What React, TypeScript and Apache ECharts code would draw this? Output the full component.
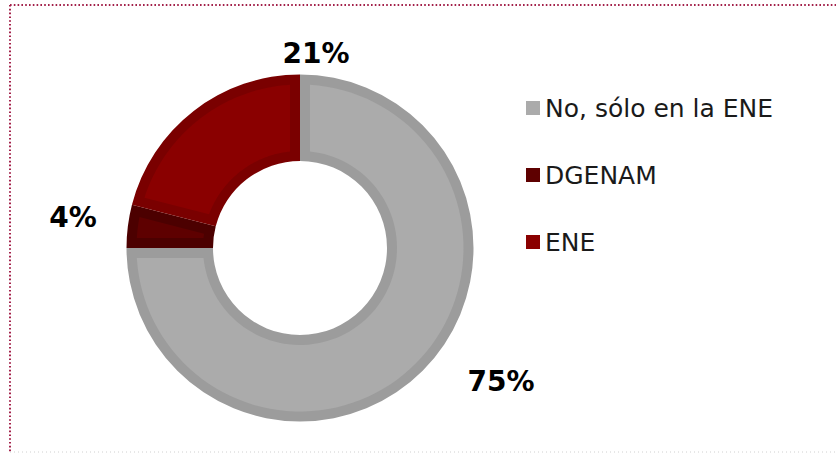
import React, { useEffect, useRef } from "react";
import * as echarts from "echarts";

const categories = ["No, sólo en la ENE", "DGENAM", "ENE"];
const values = [75, 4, 21];
const labelTexts = ["75%", "4%", "21%"];
const fillColors = ["#ababab", "#5e0000", "#8a0000"];
const edgeColors = ["#9c9c9c", "#4c0000", "#7a0000"];

const CENTER: [number, number] = [300, 248];
const R_IN = 87;
const R_OUT = 173.5;
const EDGE = 10;

const labelSpots: Record<number, [number, number]> = {
  0: [501, 381],
  1: [73, 217],
  2: [316, 53],
};

export default function App() {
  const ref = useRef<HTMLDivElement>(null);
  useEffect(() => {
    if (!ref.current) return;
    const chart = echarts.init(ref.current, null, { renderer: "svg" });
    const total = values.reduce((a, b) => a + b, 0);

    chart.setOption({
      animation: false,
      backgroundColor: "#ffffff",
      legend: {
        orient: "vertical",
        left: 521,
        top: 90,
        icon: "rect",
        itemWidth: 14,
        itemHeight: 14,
        itemGap: 41,
        selectedMode: false,
        data: categories.map((name, i) => ({
          name,
          itemStyle: { color: fillColors[i] },
        })),
        textStyle: {
          fontFamily: "DejaVu Sans",
          fontSize: 25,
          lineHeight: 26,
          color: "#1a1a1a",
        },
      },
      graphic: [
        {
          type: "line",
          shape: { x1: 10, y1: 5, x2: 836, y2: 5 },
          style: { stroke: "#a3214a", lineWidth: 2, lineDash: [1.6, 2.2] },
        },
        {
          type: "line",
          shape: { x1: 10, y1: 5, x2: 10, y2: 453 },
          style: { stroke: "#a3214a", lineWidth: 2, lineDash: [1.6, 2.2] },
        },
        {
          type: "line",
          shape: { x1: 10, y1: 452, x2: 836, y2: 452 },
          style: { stroke: "#d0d0d0", lineWidth: 1, lineDash: [1, 3] },
        },
      ],
      series: [
        {
          type: "pie",
          name: "ring",
          z: 1,
          center: CENTER,
          radius: [R_IN, R_OUT],
          startAngle: 90,
          clockwise: true,
          silent: true,
          data: categories.map((name, i) => ({
            name,
            value: values[i],
            itemStyle: { color: edgeColors[i] },
          })),
          label: {
            show: true,
            position: "outside",
            formatter: (p: any) => labelTexts[p.dataIndex],
            fontFamily: "DejaVu Sans",
            fontWeight: "bold",
            fontSize: 28,
            color: "#000000",
          },
          labelLine: { show: false },
          labelLayout: (p: any) => {
            const s = labelSpots[p.dataIndex];
            return { x: s[0], y: s[1], align: "center", verticalAlign: "middle" };
          },
        },
        {
          // lighter inner face of each slice, inset by the darker edge
          type: "custom",
          coordinateSystem: "none",
          silent: true,
          z: 3,
          data: values.map((v, i) => [v, i]),
          renderItem: (params: any, api: any) => {
            const idx = params.dataIndex;
            let before = 0;
            for (let k = 0; k < idx; k++) before += values[k];
            const a0 = -Math.PI / 2 + (2 * Math.PI * before) / total;
            const a1 = a0 + (2 * Math.PI * api.value(0)) / total;
            const ro = R_OUT - EDGE;
            const ri = R_IN + EDGE;
            const dOut = Math.asin(EDGE / ro);
            const dIn = Math.asin(EDGE / ri);
            const pts: number[][] = [];
            const N = 90;
            const os = a0 + dOut;
            const oe = a1 - dOut;
            for (let t = 0; t <= N; t++) {
              const a = os + ((oe - os) * t) / N;
              pts.push([CENTER[0] + ro * Math.cos(a), CENTER[1] + ro * Math.sin(a)]);
            }
            const is = a0 + dIn;
            const ie = a1 - dIn;
            for (let t = N; t >= 0; t--) {
              const a = is + ((ie - is) * t) / N;
              pts.push([CENTER[0] + ri * Math.cos(a), CENTER[1] + ri * Math.sin(a)]);
            }
            return {
              type: "polygon",
              shape: { points: pts },
              style: { fill: fillColors[api.value(1)] },
            };
          },
        },
      ],
    });
    return () => chart.dispose();
  }, []);
  return (
    <div
      ref={ref}
      style={{ position: "absolute", left: 0, top: 0, width: 836, height: 453 }}
    />
  );
}
